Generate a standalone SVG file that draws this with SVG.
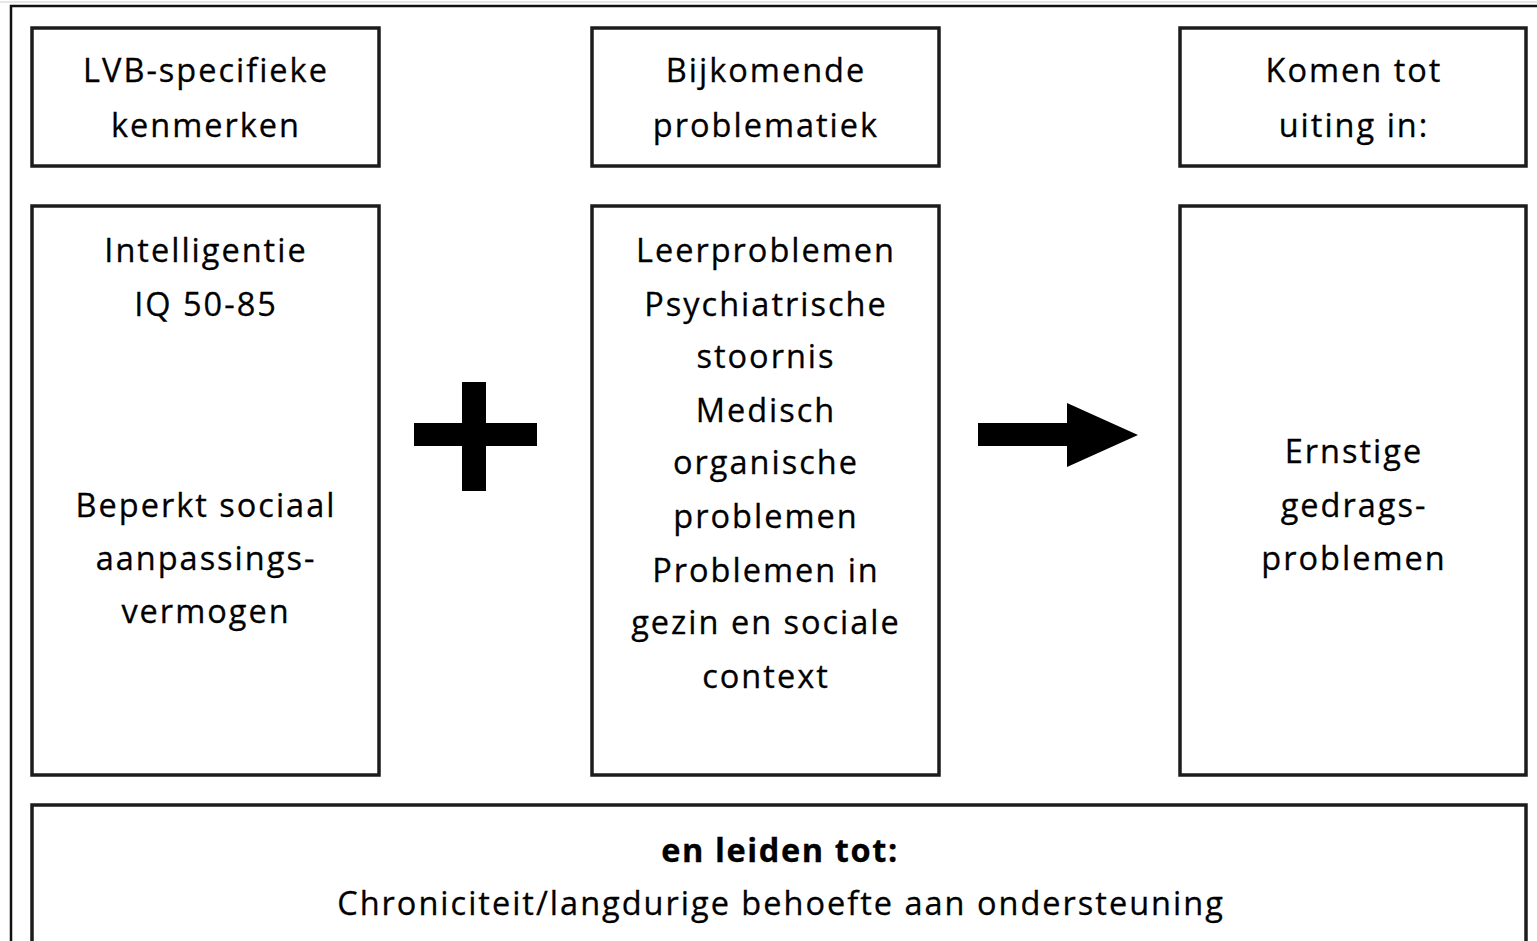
<svg xmlns="http://www.w3.org/2000/svg" width="1537" height="941" viewBox="0 0 1537 941">
<style>
.box{fill:#fff;stroke:#1c1c1c;stroke-width:3.5}
.outer{fill:#fff;stroke:#111;stroke-width:2.5}
text{font-family:"Open Sans","Noto Sans",sans-serif;font-size:32.5px;letter-spacing:2px;fill:#000;text-anchor:middle;stroke:#000;stroke-width:0.3}
.b{font-weight:bold;letter-spacing:1.6px}
</style>
<rect x="0" y="0" width="1537" height="941" fill="#fff"/>
<line x1="0" y1="2" x2="1537" y2="2" stroke="#e6e6e6" stroke-width="2"/>
<rect class="outer" x="11" y="6" width="1540" height="950"/>
<g id="n1-head"><rect class="box" x="32" y="28" width="347" height="138"/>
<text x="206" y="82">LVB-specifieke</text><text x="206" y="137">kenmerken</text></g>
<g id="n2-head"><rect class="box" x="592" y="28" width="347" height="138"/>
<text x="766" y="82">Bijkomende</text><text x="766" y="137">problematiek</text></g>
<g id="n3-head"><rect class="box" x="1180" y="28" width="346" height="138"/>
<text x="1354" y="82">Komen tot</text><text x="1354" y="137">uiting in:</text></g>
<g id="n1"><rect class="box" x="32" y="206" width="347" height="569"/>
<text x="206" y="262">Intelligentie</text><text x="206" y="316">IQ 50-85</text>
<text x="206" y="517">Beperkt sociaal</text><text x="206" y="570">aanpassings-</text><text x="206" y="623">vermogen</text></g>
<g id="n2"><rect class="box" x="592" y="206" width="347" height="569"/>
<text x="766" y="262">Leerproblemen</text><text x="766" y="316">Psychiatrische</text><text x="766" y="368">stoornis</text>
<text x="766" y="422">Medisch</text><text x="766" y="474">organische</text><text x="766" y="528">problemen</text>
<text x="766" y="582">Problemen in</text><text x="766" y="634">gezin en sociale</text><text x="766" y="688">context</text></g>
<g id="n3"><rect class="box" x="1180" y="206" width="346" height="569"/>
<text x="1354" y="463">Ernstige</text><text x="1354" y="517">gedrags-</text><text x="1354" y="570">problemen</text></g>
<g id="n4"><rect class="box" x="32" y="805" width="1494" height="160"/>
<text class="b" x="780" y="862">en leiden tot:</text>
<text x="781" y="915">Chroniciteit/langdurige behoefte aan ondersteuning</text></g>
<g id="connectors">
<rect x="462" y="382" width="24" height="109" fill="#000"/>
<rect x="414" y="423" width="123" height="23" fill="#000"/>
<polygon points="978,423 1067,423 1067,403 1138,435 1067,467 1067,446 978,446" fill="#000"/>
</g>
</svg>
